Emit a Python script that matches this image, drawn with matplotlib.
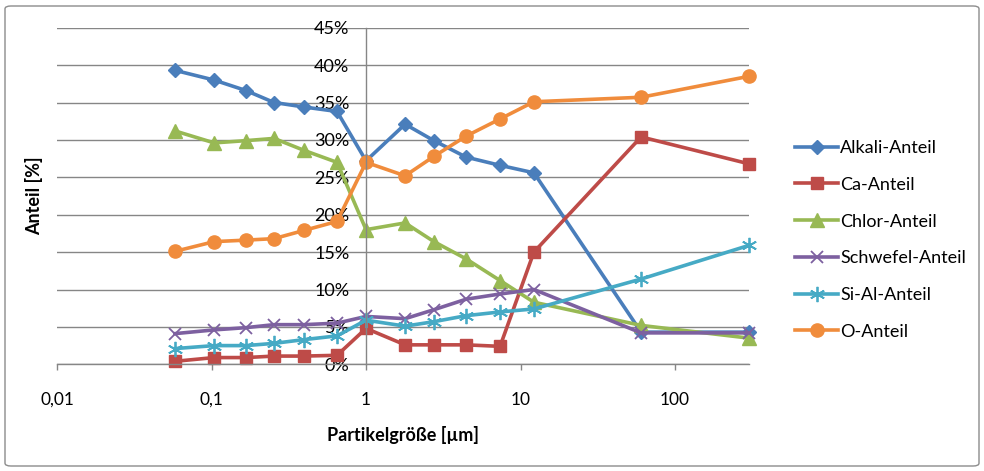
import numpy as np
import matplotlib.pyplot as plt
from matplotlib.patches import FancyBboxPatch
from matplotlib.ticker import FixedLocator, FuncFormatter, NullLocator

plt.rcParams['font.family'] = ['Lato', 'DejaVu Sans']

# particle size [um]
size = [0.058, 0.104, 0.167, 0.254, 0.397, 0.649, 1.0, 1.79, 2.75, 4.44, 7.37, 12.2, 60.3, 301]

# shares in %
alkali = [39.3, 38.0, 36.6, 35.0, 34.4, 33.8, 27.2, 32.1, 29.9, 27.7, 26.6, 25.6, 4.3, 4.3]
ca = [0.4, 0.9, 0.9, 1.1, 1.1, 1.2, 4.8, 2.6, 2.6, 2.6, 2.4, 15.0, 30.4, 26.8]
chlor = [31.2, 29.6, 29.9, 30.2, 28.6, 27.0, 18.0, 18.9, 16.4, 14.1, 11.2, 8.3, 5.2, 3.5]
schwefel = [4.1, 4.6, 4.9, 5.3, 5.3, 5.5, 6.4, 6.1, 7.3, 8.7, 9.4, 10.0, 4.2, 4.2]
sial = [2.1, 2.5, 2.5, 2.8, 3.3, 3.8, 5.9, 5.1, 5.7, 6.5, 7.0, 7.4, 11.4, 15.9]
o = [15.1, 16.4, 16.6, 16.8, 17.9, 19.1, 27.0, 25.2, 27.8, 30.5, 32.8, 35.1, 35.7, 38.5]

names = ['Alkali-Anteil', 'Ca-Anteil', 'Chlor-Anteil', 'Schwefel-Anteil', 'Si-Al-Anteil', 'O-Anteil']
series = [alkali, ca, chlor, schwefel, sial, o]
colors = ['#4A7EBB', '#BE4B48', '#98B954', '#7D60A0', '#46AAC5', '#F08C3C']
markers = ['D', 's', '^', 'x', (6, 2, 0), 'o']
msizes = [7.5, 9, 9.5, 9, 11, 9.5]

fig = plt.figure(figsize=(9.84, 4.71), dpi=100)
ax = fig.add_axes([57 / 984, 1 - 364.3 / 471, (749 - 57) / 984, (364.3 - 27.7) / 471])

for vals, name, c, m, ms in zip(series, names, colors, markers, msizes):
    ax.plot(size, vals, color=c, lw=2.6, marker=m, ms=ms, mfc=c, mec=c,
            mew=1.3 if m in ('x', (6, 2, 0)) else 1.0, label=name, clip_on=False)

ax.set_xscale('log')
ax.set_xlim(0.01, size[-1])
ax.set_ylim(0, 45)

ax.xaxis.set_major_locator(FixedLocator([0.01, 0.1, 1, 10, 100]))
ax.xaxis.set_minor_locator(NullLocator())
ax.xaxis.set_major_formatter(FuncFormatter(lambda v, p: ('%g' % v).replace('.', ',')))
ax.set_yticks(np.arange(0, 46, 5))
ax.yaxis.set_major_formatter(FuncFormatter(lambda v, p: '%d%%' % v))

ax.spines['left'].set_position(('data', 1))
ax.spines['right'].set_visible(False)
ax.spines['top'].set_visible(False)
for s in ('left', 'bottom'):
    ax.spines[s].set_color('#868686')
    ax.spines[s].set_linewidth(1.0)

ax.grid(axis='y', color='#868686', lw=1.0)
ax.set_axisbelow(True)
ax.tick_params(axis='y', length=0, pad=12, labelsize=13)
ax.tick_params(axis='x', length=4, width=1, color='#868686', direction='out', pad=16, labelsize=12.5)

ax.set_xlabel('Partikelgröße [µm]', fontsize=13, fontweight='bold', labelpad=13)
ax.set_ylabel('Anteil [%]', fontsize=13, fontweight='bold', labelpad=0)
ax.yaxis.set_label_coords(-(57 - 43) / 692, 0.5)

ax.legend(loc='upper left', bbox_to_anchor=(795 / 984, 1 - 140 / 471), bbox_transform=fig.transFigure,
          frameon=False, fontsize=13, handlelength=2.4, handletextpad=0.1, labelspacing=1.15,
          borderpad=0, borderaxespad=0)

border = FancyBboxPatch((5 / 984, 5 / 471), 974 / 984, 460 / 471, boxstyle='round,pad=0,rounding_size=0.006',
                        transform=fig.transFigure, fill=False, ec='#8c8c8c', lw=1.0)
fig.patches.append(border)

fig.savefig('out.png', dpi=100)
